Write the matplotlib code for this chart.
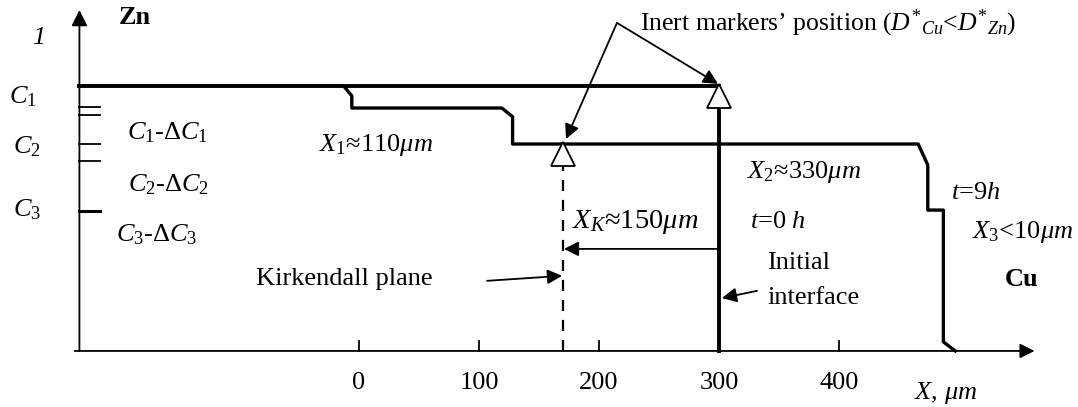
import numpy as np
import matplotlib
matplotlib.use("Agg")
import matplotlib.pyplot as plt

plt.rcParams['font.family'] = ['Liberation Serif', 'DejaVu Serif']
plt.rcParams['mathtext.fontset'] = 'custom'
plt.rcParams['mathtext.rm'] = 'Liberation Serif'
plt.rcParams['mathtext.it'] = 'Liberation Serif:italic'
plt.rcParams['mathtext.bf'] = 'Liberation Serif:bold'

# concentration profile after t = 9 h (x in um, relative concentration)
x_t9 = [-233, -13, -6, -6, 119, 128, 128, 466, 474, 474, 487, 487, 497]
c_t9 = [0.847, 0.847, 0.815, 0.776, 0.776, 0.748, 0.661, 0.661, 0.594, 0.450, 0.450, 0.029, 0.0]

# initial step profile, t = 0 h
x_t0 = [-233, 300, 300]
c_t0 = [0.847, 0.847, 0.0]

# levels marked on the concentration axis
c_levels = [0.780, 0.754, 0.661, 0.607, 0.447]

# inert markers: Kirkendall plane and initial interface
x_marker = [170, 300]
c_marker = [0.629, 0.813]
x_kirk = 170

x_ticks = [0, 100, 200, 300, 400]
x_tick_ticks = [0, 100, 200, 400]

FS = 19

fig = plt.figure(figsize=(10.78, 4.07), dpi=100)
ax = fig.add_axes([0, 0, 1, 1])
ax.set_xlim(-299.2, 599.2)
ax.set_ylim(-0.179, 1.121)
ax.axis('off')

# axes with arrow heads
ax.annotate('', xy=(563, 0), xytext=(-237, 0),
            arrowprops=dict(arrowstyle='-|>', lw=1.3, color='black',
                            mutation_scale=22, shrinkA=0, shrinkB=0))
ax.annotate('', xy=(-233, 1.089), xytext=(-233, 0),
            arrowprops=dict(arrowstyle='-|>', lw=1.3, color='black',
                            mutation_scale=24, shrinkA=0, shrinkB=0))

for xt in x_tick_ticks:
    ax.plot([xt, xt], [0, 0.032], color='black', lw=1.3)
for xt in x_ticks:
    ax.text(xt, -0.102, str(xt), ha='center', va='center', fontsize=FS)

for i, cl in enumerate(c_levels):
    ax.plot([-233, -216], [cl, cl], color='black', lw=2.2 if i == 4 else 1.3)

# profiles
ax.plot(x_t0, c_t0, color='black', lw=2.8, solid_joinstyle='miter')
ax.plot(x_t9, c_t9, color='black', lw=2.4)
ax.plot([x_kirk, x_kirk], [0, 0.591], color='black', lw=1.6, dashes=(5, 4))
ax.plot(x_marker, c_marker, ls='none', marker='^', ms=17, mfc='white',
        mec='black', mew=1.3)

# labels
ax.text(-186.7, 1.064, 'Zn', fontsize=FS, fontweight='bold', ha='center', va='center')
ax.text(552.5, 0.227, 'Cu', fontsize=FS, fontweight='bold', ha='center', va='center')
ax.text(-266.7, 1.0, '1', fontsize=FS, fontstyle='italic', ha='center', va='center')
ax.text(-280, 0.811, r'$C_{\mathit{1}}$', fontsize=FS, ha='center', va='center')
ax.text(-276.7, 0.652, r'$C_{\mathit{2}}$', fontsize=FS, ha='center', va='center')
ax.text(-276.7, 0.450, r'$C_{\mathit{3}}$', fontsize=FS, ha='center', va='center')
ax.text(-159.2, 0.696, r'$C_{\mathit{1}}$-$\Delta C_{\mathit{1}}$', fontsize=FS, ha='center', va='center')
ax.text(-159.2, 0.530, r'$C_{\mathit{2}}$-$\Delta C_{\mathit{2}}$', fontsize=FS, ha='center', va='center')
ax.text(-168.3, 0.371, r'$C_{\mathit{3}}$-$\Delta C_{\mathit{3}}$', fontsize=FS, ha='center', va='center')
ax.text(14.2, 0.658, r'$X_{\mathit{1}}$≈110$\mu m$', fontsize=FS, ha='center', va='center')
ax.text(370.8, 0.572, r'$X_{\mathit{2}}$≈330$\mu m$', fontsize=FS, ha='center', va='center')
ax.text(514.2, 0.505, r'$t$=$\mathit{9}h$', fontsize=FS, ha='center', va='center')
ax.text(349.2, 0.412, r'$t$=0 $h$', fontsize=FS, ha='center', va='center')
ax.text(553.3, 0.380, r'$X_{\mathit{3}}$<10$\mu m$', fontsize=FS, ha='center', va='center')
ax.text(230, 0.412, r'$X_K$≈150$\mu m$', fontsize=20.5, ha='center', va='center')
ax.text(340, 0.224, 'Initial\ninterface', fontsize=FS, ha='left', va='center',
        linespacing=1.75)
ax.text(-12.5, 0.230, 'Kirkendall plane', fontsize=FS, ha='center', va='center')
ax.text(234.2, 1.048, r'Inert markers’ position ($D^{*}{}_{Cu}$<$D^{*}{}_{Zn}$)',
        fontsize=18.5, ha='left', va='center')
ax.text(489.2, -0.134, r'$X$, $\mu m$', fontsize=FS, ha='center', va='center')

arrow = dict(arrowstyle='-|>', lw=1.3, color='black', mutation_scale=22,
             shrinkA=0, shrinkB=0)
ax.annotate('', xy=(299.2, 0.853), xytext=(215, 1.048), arrowprops=arrow)
ax.annotate('', xy=(172.5, 0.677), xytext=(215, 1.048), arrowprops=arrow)
ax.annotate('', xy=(170.8, 0.326), xytext=(300, 0.326), arrowprops=arrow)
ax.annotate('', xy=(169.2, 0.240), xytext=(106.7, 0.224), arrowprops=arrow)
ax.annotate('', xy=(302.5, 0.169), xytext=(331.7, 0.192), arrowprops=arrow)

fig.savefig('out.png', dpi=100)
